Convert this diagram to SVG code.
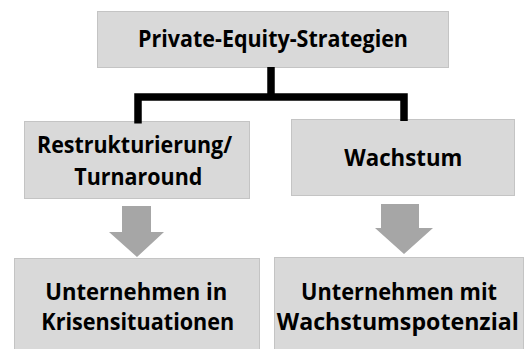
<svg xmlns="http://www.w3.org/2000/svg" width="526" height="349" viewBox="0 0 526 349">
<style>
.box{fill:#d9d9d9;stroke:#c4c4c4;stroke-width:1}
.t{font-family:"Open Sans","Liberation Sans",sans-serif;font-weight:700;font-size:24px;fill:#000;text-anchor:middle}
.arr{fill:#a6a6a6}
.conn{fill:none;stroke:#000;stroke-width:7.5;stroke-linejoin:miter;stroke-linecap:butt}
</style>
<rect width="526" height="349" fill="#fff"/>
<g id="node-root">
<rect class="box" x="97.5" y="11.5" width="351" height="56"/>
<text class="t" x="273" y="47" style="font-size:23px" textLength="270" lengthAdjust="spacingAndGlyphs">Private-Equity-Strategien</text>
</g>
<g id="node-restrukturierung">
<rect class="box" x="24.5" y="121.5" width="225" height="77"/>
<text class="t" x="134.5" y="153" textLength="195" lengthAdjust="spacingAndGlyphs">Restrukturierung/</text>
<text class="t" x="138.3" y="185" textLength="128" lengthAdjust="spacingAndGlyphs">Turnaround</text>
</g>
<g id="node-wachstum">
<rect class="box" x="291.5" y="119.5" width="223" height="76"/>
<text class="t" x="403.3" y="166" textLength="118" lengthAdjust="spacingAndGlyphs">Wachstum</text>
</g>
<g id="node-krisen">
<rect class="box" x="14.5" y="258.5" width="245" height="92"/>
<text class="t" x="136.3" y="300" textLength="182" lengthAdjust="spacingAndGlyphs">Unternehmen in</text>
<text class="t" x="137.8" y="330" textLength="193" lengthAdjust="spacingAndGlyphs">Krisensituationen</text>
</g>
<g id="node-wachstumspotenzial">
<rect class="box" x="274.5" y="257.5" width="249" height="93"/>
<text class="t" x="399" y="300" textLength="196" lengthAdjust="spacingAndGlyphs">Unternehmen mit</text>
<text class="t" x="397.8" y="330" textLength="242" lengthAdjust="spacingAndGlyphs">Wachstumspotenzial</text>
</g>
<g id="connectors">
<path class="conn" d="M271,67 V97"/>
<path class="conn" d="M138,123.5 V97 H404 V121"/>
<polygon class="arr" points="122,206 151,206 151,232 164,232 137,257 109,232 122,232"/>
<polygon class="arr" points="381,204 419,204 419,228 433,228 404,254 375,228 381,228"/>
</g>
</svg>
